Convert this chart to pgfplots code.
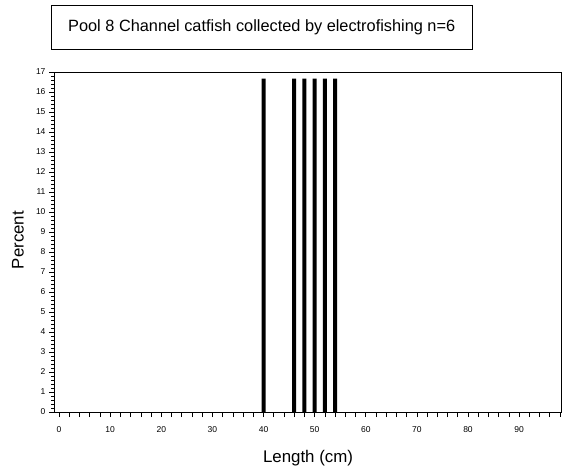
\documentclass[border=0pt]{standalone}
\usepackage{pgfplots}
\pgfplotsset{compat=1.18}
\usepackage{fontspec}
\setmainfont{Liberation Sans}
\begin{document}
\begin{tikzpicture}[x=1pt,y=1pt]
\path[use as bounding box] (0,0) rectangle (570,475);
\node[draw,line width=0.8pt,minimum width=421pt,minimum height=44pt,inner sep=0pt] at (261.5,448) {};
\node[anchor=west,inner sep=0pt] at (68,448) {\resizebox{387pt}{!}{Pool 8 Channel catfish collected by electrofishing n=6}};
\node[rotate=90,inner sep=0pt] at (18,235) {\resizebox{58pt}{!}{Percent}};
\node[inner sep=0pt] at (308,17) {\resizebox{90pt}{!}{Length (cm)}};
\begin{axis}[
  at={(54pt,63pt)}, anchor=south west,
  scale only axis, width=507pt, height=340pt,
  xmin=-1, xmax=98.2, ymin=0, ymax=17,
  ybar, bar width=4pt,
  axis line style={line width=0.8pt},
  tick align=outside,
  tick style={black, line width=0.7pt},
  major tick length=5pt, minor tick length=2.5pt,
  xtick={0,2,...,98},
  xticklabels={0,,,,,10,,,,,20,,,,,30,,,,,40,,,,,50,,,,,60,,,,,70,,,,,80,,,,,90,,,,},
  ytick={0,1,...,17}, minor y tick num=4,
  xtick pos=bottom, ytick pos=left,
  /pgf/number format/assume math mode=true,
  ticklabel style={font=\fontsize{8.5}{9}\selectfont},
  xticklabel style={yshift=-6pt},
]
\addplot[fill=black, draw=none] coordinates {(40,16.67) (46,16.67) (48,16.67) (50,16.67) (52,16.67) (54,16.67)};
\end{axis}
\end{tikzpicture}
\end{document}
